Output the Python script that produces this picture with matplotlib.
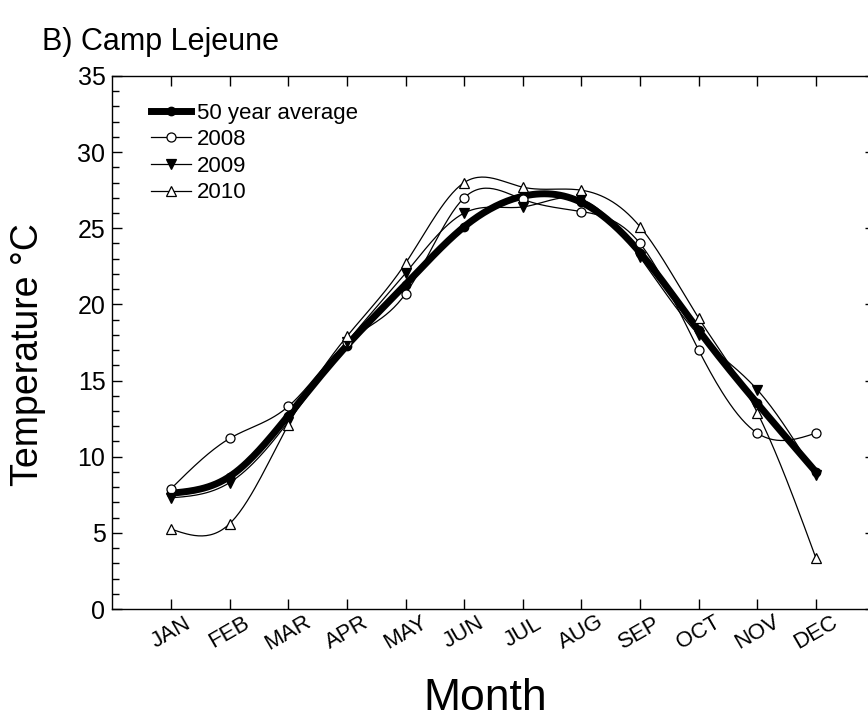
import numpy as np
import matplotlib
matplotlib.use("Agg")
import matplotlib.pyplot as plt
from matplotlib.ticker import MultipleLocator

plt.rcParams['font.family'] = ['Liberation Sans', 'DejaVu Sans']

months = ["JAN", "FEB", "MAR", "APR", "MAY", "JUN", "JUL", "AUG", "SEP", "OCT", "NOV", "DEC"]
avg_50yr = [7.6, 8.7, 12.7, 17.3, 21.3, 25.1, 27.1, 26.7, 23.4, 18.3, 13.5, 9.0]
temp_2008 = [7.9, 11.2, 13.3, 17.5, 20.7, 27.0, 26.9, 26.1, 24.0, 17.0, 11.55, 11.55]
temp_2009 = [7.3, 8.3, 12.3, 17.5, 22.05, 26.0, 26.4, 26.9, 23.1, 18.0, 14.4, 8.8]
temp_2010 = [5.25, 5.6, 12.1, 17.9, 22.7, 28.0, 27.7, 27.5, 25.1, 19.1, 12.9, 3.35]


def smooth(x, y, n=30):
    # natural cubic spline through the monthly points
    x = np.asarray(x, float)
    y = np.asarray(y, float)
    k = len(x)
    h = np.diff(x)
    A = np.zeros((k, k))
    b = np.zeros(k)
    A[0, 0] = A[-1, -1] = 1
    for i in range(1, k - 1):
        A[i, i - 1] = h[i - 1]
        A[i, i] = 2 * (h[i - 1] + h[i])
        A[i, i + 1] = h[i]
        b[i] = 6 * ((y[i + 1] - y[i]) / h[i] - (y[i] - y[i - 1]) / h[i - 1])
    M = np.linalg.solve(A, b)
    xs, ys = [], []
    for i in range(k - 1):
        t = np.linspace(x[i], x[i + 1], n, endpoint=False)
        a = x[i + 1] - t
        c = t - x[i]
        s = (M[i] * a ** 3 + M[i + 1] * c ** 3) / (6 * h[i]) \
            + (y[i] / h[i] - M[i] * h[i] / 6) * a \
            + (y[i + 1] / h[i] - M[i + 1] * h[i] / 6) * c
        xs.append(t)
        ys.append(s)
    xs.append([x[-1]])
    ys.append([y[-1]])
    return np.concatenate(xs), np.concatenate(ys)


fig = plt.figure(figsize=(8.68, 7.27), dpi=100)
ax = fig.add_axes([0.1295, 0.1623, 0.878, 0.7332])

x = np.arange(1, 13)
series = [
    ("2008", temp_2008, dict(marker='o', mfc='white', mec='black', ms=6.5)),
    ("2009", temp_2009, dict(marker='v', mfc='black', mec='black', ms=6.5)),
    ("2010", temp_2010, dict(marker='^', mfc='white', mec='black', ms=6.5)),
]
handles = []
xs, ys = smooth(x, avg_50yr)
ax.plot(xs, ys, color='black', lw=5, zorder=3, solid_capstyle='round')
ax.plot(x, avg_50yr, 'o', color='black', ms=6, zorder=4)
handles.append(ax.plot([], [], color='black', lw=5, marker='o', ms=6, label="50 year average")[0])
for name, vals, style in series:
    xs, ys = smooth(x, vals)
    ax.plot(xs, ys, color='black', lw=0.9, zorder=2)
    ax.plot(x, vals, ls='none', mew=0.9, zorder=5, **style)
    handles.append(ax.plot([], [], color='black', lw=0.9, mew=0.9, label=name, **style)[0])

ax.set_xlim(0, 13)
ax.set_ylim(0, 35)
ax.set_xticks(x)
ax.set_xticklabels(months, rotation=30, ha='center', va='center', fontsize=16)
ax.tick_params(axis='x', pad=17)
ax.yaxis.set_major_locator(MultipleLocator(5))
ax.yaxis.set_minor_locator(MultipleLocator(1))
ax.tick_params(which='major', direction='in', length=7, width=1, top=True, right=True)
ax.tick_params(axis='y', labelsize=18, pad=5)
ax.tick_params(which='minor', direction='in', length=5, width=1, right=False)
for sp in ax.spines.values():
    sp.set_linewidth(1)

fig.text(485 / 868, 1 - 710 / 727, "Month", fontsize=32, ha='center', va='baseline')
fig.text(28 / 868, 1 - 355 / 727, "Temperature °C", fontsize=27, rotation=90,
         ha='center', va='center')

ax.legend(handles=handles, loc='upper left', bbox_to_anchor=(0.05, 0.95), frameon=False,
          fontsize=16, handlelength=1.8, labelspacing=0.25, handletextpad=0.3,
          borderaxespad=0, borderpad=0)

fig.text(42 / 868, 1 - 50 / 727, "B) Camp Lejeune", fontsize=22, ha='left', va='baseline')

fig.savefig("out.png", dpi=100)
